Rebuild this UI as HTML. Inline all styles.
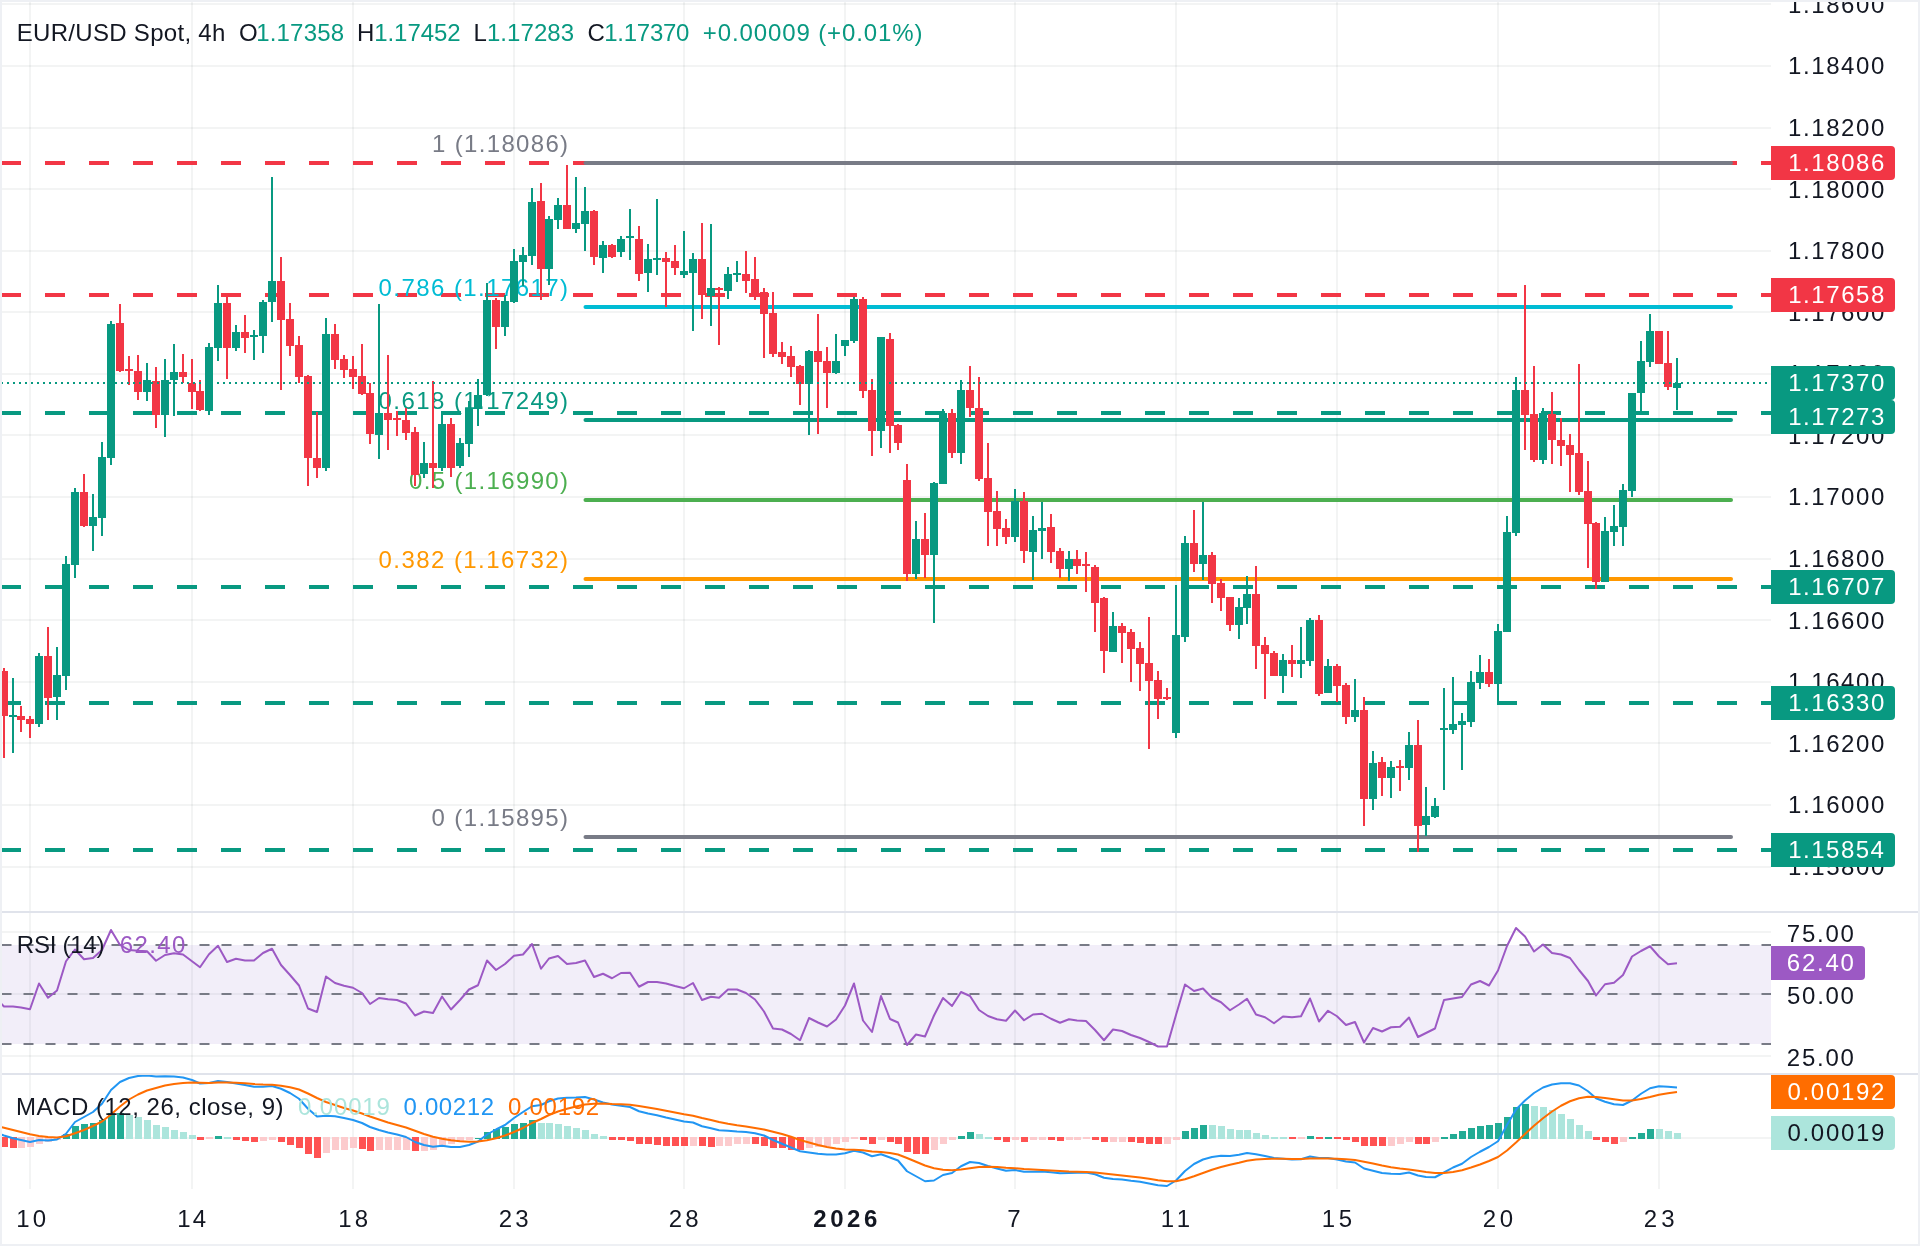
<!DOCTYPE html><html><head><meta charset="utf-8"><title>EUR/USD Spot 4h</title>
<style>
html,body{margin:0;padding:0;background:#fff;}
body{width:1920px;height:1246px;overflow:hidden;font-family:"Liberation Sans",sans-serif;}
svg{display:block;position:absolute;left:0;top:0;will-change:transform;}
text{font-family:"Liberation Sans",sans-serif;font-size:24px;letter-spacing:0.9px;}
.ax{fill:#131722}
.w{fill:#fff}
</style></head><body>
<svg width="1920" height="1246" viewBox="0 0 1920 1246">
<rect x="0" y="0" width="1920" height="1246" fill="#ffffff"/>
<g shape-rendering="crispEdges">
<rect x="29" y="2" width="2" height="1187" fill="rgba(42,46,57,0.055)"/>
<rect x="191" y="2" width="2" height="1187" fill="rgba(42,46,57,0.055)"/>
<rect x="352" y="2" width="2" height="1187" fill="rgba(42,46,57,0.055)"/>
<rect x="513" y="2" width="2" height="1187" fill="rgba(42,46,57,0.055)"/>
<rect x="683" y="2" width="2" height="1187" fill="rgba(42,46,57,0.055)"/>
<rect x="844" y="2" width="2" height="1187" fill="rgba(42,46,57,0.055)"/>
<rect x="1014" y="2" width="2" height="1187" fill="rgba(42,46,57,0.055)"/>
<rect x="1175" y="2" width="2" height="1187" fill="rgba(42,46,57,0.055)"/>
<rect x="1336" y="2" width="2" height="1187" fill="rgba(42,46,57,0.055)"/>
<rect x="1497" y="2" width="2" height="1187" fill="rgba(42,46,57,0.055)"/>
<rect x="1658" y="2" width="2" height="1187" fill="rgba(42,46,57,0.055)"/>
<rect x="2" y="3" width="1769" height="2" fill="rgba(42,46,57,0.055)"/>
<rect x="2" y="65" width="1769" height="2" fill="rgba(42,46,57,0.055)"/>
<rect x="2" y="127" width="1769" height="2" fill="rgba(42,46,57,0.055)"/>
<rect x="2" y="188" width="1769" height="2" fill="rgba(42,46,57,0.055)"/>
<rect x="2" y="250" width="1769" height="2" fill="rgba(42,46,57,0.055)"/>
<rect x="2" y="311" width="1769" height="2" fill="rgba(42,46,57,0.055)"/>
<rect x="2" y="373" width="1769" height="2" fill="rgba(42,46,57,0.055)"/>
<rect x="2" y="434" width="1769" height="2" fill="rgba(42,46,57,0.055)"/>
<rect x="2" y="496" width="1769" height="2" fill="rgba(42,46,57,0.055)"/>
<rect x="2" y="558" width="1769" height="2" fill="rgba(42,46,57,0.055)"/>
<rect x="2" y="619" width="1769" height="2" fill="rgba(42,46,57,0.055)"/>
<rect x="2" y="681" width="1769" height="2" fill="rgba(42,46,57,0.055)"/>
<rect x="2" y="742" width="1769" height="2" fill="rgba(42,46,57,0.055)"/>
<rect x="2" y="804" width="1769" height="2" fill="rgba(42,46,57,0.055)"/>
<rect x="2" y="866" width="1769" height="2" fill="rgba(42,46,57,0.055)"/>
<rect x="2" y="931" width="1769" height="2" fill="rgba(42,46,57,0.055)"/>
<rect x="2" y="993" width="1769" height="2" fill="rgba(42,46,57,0.055)"/>
<rect x="2" y="1055" width="1769" height="2" fill="rgba(42,46,57,0.055)"/>
<rect x="2" y="1137" width="1769" height="2" fill="rgba(42,46,57,0.055)"/>
</g>
<rect x="2" y="945" width="1769" height="99" fill="#7e57c2" fill-opacity="0.1"/>
<line x1="1.5" y1="945" x2="1771" y2="945" stroke="#787b86" stroke-width="2" stroke-dasharray="10 12"/>
<line x1="1.5" y1="994" x2="1771" y2="994" stroke="#787b86" stroke-width="2" stroke-dasharray="10 12"/>
<line x1="1.5" y1="1044" x2="1771" y2="1044" stroke="#787b86" stroke-width="2" stroke-dasharray="10 12"/>
<polyline points="-5,997.50 4,1006.50 13,1006.50 21,1007.50 30,1009.25 39,983.50 48,997.75 57,990.50 66,961.25 75,949.50 84,959.25 93,958.00 102,950.00 111,930.00 120,945.00 129,950.00 138,950.75 147,951.25 156,960.75 165,955.00 174,953.25 183,954.50 192,961.25 200,967.25 209,954.25 218,945.75 227,962.00 236,958.75 245,960.50 254,960.50 263,953.00 272,948.75 281,965.00 290,975.00 299,985.50 308,1008.50 317,1012.00 326,976.50 335,983.00 344,985.75 353,987.75 362,993.00 370,1004.00 379,998.00 388,999.25 397,1000.00 406,1003.50 415,1015.50 424,1011.50 433,1013.00 442,996.50 451,1009.50 460,1000.00 469,989.50 478,985.25 487,960.50 496,970.00 505,964.00 514,955.75 523,954.50 532,944.00 541,968.75 549,958.50 558,956.00 567,964.00 576,963.00 585,960.50 594,977.00 603,973.75 612,978.25 621,973.00 630,972.75 639,986.75 648,982.00 657,982.00 666,983.50 675,986.00 684,988.25 693,983.00 702,1000.00 711,996.75 719,997.75 728,989.50 737,989.50 746,993.00 755,999.50 764,1011.50 773,1028.50 782,1029.50 791,1034.00 800,1040.25 809,1018.00 818,1022.50 827,1026.50 836,1019.50 845,1005.50 854,983.50 863,1020.50 872,1032.00 881,996.00 890,1019.00 898,1022.50 907,1045.00 916,1034.50 925,1036.50 934,1015.50 943,998.00 952,1006.00 961,992.00 970,996.00 979,1010.00 988,1016.00 997,1019.25 1006,1020.75 1015,1010.50 1024,1020.25 1033,1014.50 1042,1013.75 1051,1018.75 1060,1022.75 1069,1019.25 1077,1020.50 1086,1021.00 1095,1030.00 1104,1040.25 1113,1029.50 1122,1031.00 1131,1035.00 1140,1038.00 1149,1042.00 1158,1046.50 1167,1046.50 1176,1015.00 1185,984.50 1194,991.00 1203,988.50 1212,997.75 1221,1002.25 1230,1010.25 1239,1004.50 1247,998.75 1256,1014.50 1265,1017.25 1274,1023.25 1283,1016.50 1292,1017.25 1301,1016.25 1310,998.50 1319,1021.50 1328,1010.75 1337,1016.25 1346,1025.00 1355,1022.00 1364,1042.50 1373,1028.00 1382,1031.50 1391,1027.25 1400,1026.75 1409,1017.50 1418,1037.00 1426,1033.00 1435,1028.50 1444,1000.00 1453,998.50 1462,997.00 1471,984.50 1480,981.00 1489,985.50 1498,970.50 1507,946.00 1516,928.00 1525,936.50 1534,951.50 1543,944.50 1552,953.00 1561,954.50 1570,958.00 1579,970.00 1588,981.00 1596,995.50 1605,984.25 1614,982.75 1623,975.00 1632,956.50 1641,951.00 1650,946.25 1659,956.50 1668,964.25 1677,963.25" fill="none" stroke="#9c59c4" stroke-width="2" stroke-linejoin="round"/>
<g shape-rendering="crispEdges">
<rect x="1" y="1137" width="7" height="10" fill="#ff5252"/>
<rect x="10" y="1137" width="7" height="11" fill="#ff5252"/>
<rect x="18" y="1137" width="7" height="11" fill="#fccbcd"/>
<rect x="27" y="1137" width="7" height="10" fill="#fccbcd"/>
<rect x="36" y="1137" width="7" height="7" fill="#fccbcd"/>
<rect x="45" y="1137" width="7" height="5" fill="#fccbcd"/>
<rect x="54" y="1137" width="7" height="3" fill="#fccbcd"/>
<rect x="63" y="1134" width="7" height="5" fill="#22ab94"/>
<rect x="72" y="1126" width="7" height="13" fill="#22ab94"/>
<rect x="81" y="1124" width="7" height="15" fill="#22ab94"/>
<rect x="90" y="1123" width="7" height="16" fill="#22ab94"/>
<rect x="99" y="1120" width="7" height="19" fill="#22ab94"/>
<rect x="108" y="1113" width="7" height="26" fill="#22ab94"/>
<rect x="117" y="1113" width="7" height="26" fill="#22ab94"/>
<rect x="126" y="1115" width="7" height="24" fill="#ace5dc"/>
<rect x="135" y="1117" width="7" height="22" fill="#ace5dc"/>
<rect x="144" y="1120" width="7" height="19" fill="#ace5dc"/>
<rect x="153" y="1125" width="7" height="14" fill="#ace5dc"/>
<rect x="162" y="1127" width="7" height="12" fill="#ace5dc"/>
<rect x="171" y="1130" width="7" height="9" fill="#ace5dc"/>
<rect x="180" y="1132" width="7" height="7" fill="#ace5dc"/>
<rect x="189" y="1135" width="7" height="4" fill="#ace5dc"/>
<rect x="197" y="1137" width="7" height="3" fill="#ff5252"/>
<rect x="206" y="1137" width="7" height="2" fill="#fccbcd"/>
<rect x="215" y="1136" width="7" height="3" fill="#22ab94"/>
<rect x="224" y="1137" width="7" height="2" fill="#ace5dc"/>
<rect x="233" y="1137" width="7" height="3" fill="#ff5252"/>
<rect x="242" y="1137" width="7" height="4" fill="#ff5252"/>
<rect x="251" y="1137" width="7" height="5" fill="#ff5252"/>
<rect x="260" y="1137" width="7" height="4" fill="#fccbcd"/>
<rect x="269" y="1137" width="7" height="3" fill="#fccbcd"/>
<rect x="278" y="1137" width="7" height="5" fill="#ff5252"/>
<rect x="287" y="1137" width="7" height="8" fill="#ff5252"/>
<rect x="296" y="1137" width="7" height="11" fill="#ff5252"/>
<rect x="305" y="1137" width="7" height="17" fill="#ff5252"/>
<rect x="314" y="1137" width="7" height="21" fill="#ff5252"/>
<rect x="323" y="1137" width="7" height="16" fill="#fccbcd"/>
<rect x="332" y="1137" width="7" height="13" fill="#fccbcd"/>
<rect x="341" y="1137" width="7" height="13" fill="#fccbcd"/>
<rect x="350" y="1137" width="7" height="11" fill="#fccbcd"/>
<rect x="359" y="1137" width="7" height="12" fill="#ff5252"/>
<rect x="367" y="1137" width="7" height="14" fill="#ff5252"/>
<rect x="376" y="1137" width="7" height="13" fill="#fccbcd"/>
<rect x="385" y="1137" width="7" height="13" fill="#fccbcd"/>
<rect x="394" y="1137" width="7" height="13" fill="#fccbcd"/>
<rect x="403" y="1137" width="7" height="13" fill="#fccbcd"/>
<rect x="412" y="1137" width="7" height="14" fill="#ff5252"/>
<rect x="421" y="1137" width="7" height="14" fill="#fccbcd"/>
<rect x="430" y="1137" width="7" height="13" fill="#fccbcd"/>
<rect x="439" y="1137" width="7" height="9" fill="#fccbcd"/>
<rect x="448" y="1137" width="7" height="7" fill="#fccbcd"/>
<rect x="457" y="1137" width="7" height="4" fill="#fccbcd"/>
<rect x="466" y="1137" width="7" height="3" fill="#fccbcd"/>
<rect x="475" y="1138" width="7" height="1" fill="#22ab94"/>
<rect x="484" y="1132" width="7" height="7" fill="#22ab94"/>
<rect x="493" y="1129" width="7" height="10" fill="#22ab94"/>
<rect x="502" y="1127" width="7" height="12" fill="#22ab94"/>
<rect x="511" y="1124" width="7" height="15" fill="#22ab94"/>
<rect x="520" y="1123" width="7" height="16" fill="#22ab94"/>
<rect x="529" y="1120" width="7" height="19" fill="#22ab94"/>
<rect x="538" y="1123" width="7" height="16" fill="#ace5dc"/>
<rect x="546" y="1123" width="7" height="16" fill="#ace5dc"/>
<rect x="555" y="1124" width="7" height="15" fill="#ace5dc"/>
<rect x="564" y="1126" width="7" height="13" fill="#ace5dc"/>
<rect x="573" y="1128" width="7" height="11" fill="#ace5dc"/>
<rect x="582" y="1130" width="7" height="9" fill="#ace5dc"/>
<rect x="591" y="1134" width="7" height="5" fill="#ace5dc"/>
<rect x="600" y="1136" width="7" height="3" fill="#ace5dc"/>
<rect x="609" y="1137" width="7" height="3" fill="#ff5252"/>
<rect x="618" y="1137" width="7" height="3" fill="#ff5252"/>
<rect x="627" y="1137" width="7" height="4" fill="#ff5252"/>
<rect x="636" y="1137" width="7" height="7" fill="#ff5252"/>
<rect x="645" y="1137" width="7" height="7" fill="#ff5252"/>
<rect x="654" y="1137" width="7" height="8" fill="#ff5252"/>
<rect x="663" y="1137" width="7" height="9" fill="#ff5252"/>
<rect x="672" y="1137" width="7" height="9" fill="#ff5252"/>
<rect x="681" y="1137" width="7" height="9" fill="#ff5252"/>
<rect x="690" y="1137" width="7" height="9" fill="#fccbcd"/>
<rect x="699" y="1137" width="7" height="9" fill="#ff5252"/>
<rect x="708" y="1137" width="7" height="10" fill="#ff5252"/>
<rect x="716" y="1137" width="7" height="9" fill="#fccbcd"/>
<rect x="725" y="1137" width="7" height="9" fill="#fccbcd"/>
<rect x="734" y="1137" width="7" height="7" fill="#fccbcd"/>
<rect x="743" y="1137" width="7" height="7" fill="#fccbcd"/>
<rect x="752" y="1137" width="7" height="7" fill="#ff5252"/>
<rect x="761" y="1137" width="7" height="9" fill="#ff5252"/>
<rect x="770" y="1137" width="7" height="11" fill="#ff5252"/>
<rect x="779" y="1137" width="7" height="11" fill="#ff5252"/>
<rect x="788" y="1137" width="7" height="13" fill="#ff5252"/>
<rect x="797" y="1137" width="7" height="13" fill="#ff5252"/>
<rect x="806" y="1137" width="7" height="11" fill="#fccbcd"/>
<rect x="815" y="1137" width="7" height="10" fill="#fccbcd"/>
<rect x="824" y="1137" width="7" height="9" fill="#fccbcd"/>
<rect x="833" y="1137" width="7" height="7" fill="#fccbcd"/>
<rect x="842" y="1137" width="7" height="5" fill="#fccbcd"/>
<rect x="851" y="1137" width="7" height="2" fill="#fccbcd"/>
<rect x="860" y="1137" width="7" height="3" fill="#ff5252"/>
<rect x="869" y="1137" width="7" height="7" fill="#ff5252"/>
<rect x="878" y="1137" width="7" height="3" fill="#fccbcd"/>
<rect x="887" y="1137" width="7" height="5" fill="#ff5252"/>
<rect x="895" y="1137" width="7" height="7" fill="#ff5252"/>
<rect x="904" y="1137" width="7" height="15" fill="#ff5252"/>
<rect x="913" y="1137" width="7" height="17" fill="#ff5252"/>
<rect x="922" y="1137" width="7" height="17" fill="#ff5252"/>
<rect x="931" y="1137" width="7" height="13" fill="#fccbcd"/>
<rect x="940" y="1137" width="7" height="7" fill="#fccbcd"/>
<rect x="949" y="1137" width="7" height="3" fill="#fccbcd"/>
<rect x="958" y="1136" width="7" height="3" fill="#22ab94"/>
<rect x="967" y="1132" width="7" height="7" fill="#22ab94"/>
<rect x="976" y="1134" width="7" height="5" fill="#ace5dc"/>
<rect x="985" y="1137" width="7" height="2" fill="#ace5dc"/>
<rect x="994" y="1137" width="7" height="3" fill="#ff5252"/>
<rect x="1003" y="1137" width="7" height="5" fill="#ff5252"/>
<rect x="1012" y="1137" width="7" height="3" fill="#fccbcd"/>
<rect x="1021" y="1137" width="7" height="5" fill="#ff5252"/>
<rect x="1030" y="1137" width="7" height="3" fill="#fccbcd"/>
<rect x="1039" y="1137" width="7" height="3" fill="#fccbcd"/>
<rect x="1048" y="1137" width="7" height="3" fill="#ff5252"/>
<rect x="1057" y="1137" width="7" height="4" fill="#ff5252"/>
<rect x="1066" y="1137" width="7" height="3" fill="#fccbcd"/>
<rect x="1074" y="1137" width="7" height="3" fill="#fccbcd"/>
<rect x="1083" y="1137" width="7" height="2" fill="#fccbcd"/>
<rect x="1092" y="1137" width="7" height="3" fill="#ff5252"/>
<rect x="1101" y="1137" width="7" height="5" fill="#ff5252"/>
<rect x="1110" y="1137" width="7" height="5" fill="#fccbcd"/>
<rect x="1119" y="1137" width="7" height="5" fill="#fccbcd"/>
<rect x="1128" y="1137" width="7" height="5" fill="#ff5252"/>
<rect x="1137" y="1137" width="7" height="6" fill="#ff5252"/>
<rect x="1146" y="1137" width="7" height="7" fill="#ff5252"/>
<rect x="1155" y="1137" width="7" height="7" fill="#ff5252"/>
<rect x="1164" y="1137" width="7" height="7" fill="#fccbcd"/>
<rect x="1173" y="1137" width="7" height="3" fill="#fccbcd"/>
<rect x="1182" y="1131" width="7" height="8" fill="#22ab94"/>
<rect x="1191" y="1128" width="7" height="11" fill="#22ab94"/>
<rect x="1200" y="1125" width="7" height="14" fill="#22ab94"/>
<rect x="1209" y="1125" width="7" height="14" fill="#ace5dc"/>
<rect x="1218" y="1126" width="7" height="13" fill="#ace5dc"/>
<rect x="1227" y="1129" width="7" height="10" fill="#ace5dc"/>
<rect x="1236" y="1130" width="7" height="9" fill="#ace5dc"/>
<rect x="1244" y="1130" width="7" height="9" fill="#ace5dc"/>
<rect x="1253" y="1133" width="7" height="6" fill="#ace5dc"/>
<rect x="1262" y="1135" width="7" height="4" fill="#ace5dc"/>
<rect x="1271" y="1137" width="7" height="2" fill="#ace5dc"/>
<rect x="1280" y="1137" width="7" height="2" fill="#ace5dc"/>
<rect x="1289" y="1137" width="7" height="2" fill="#ff5252"/>
<rect x="1298" y="1137" width="7" height="2" fill="#fccbcd"/>
<rect x="1307" y="1136" width="7" height="3" fill="#22ab94"/>
<rect x="1316" y="1137" width="7" height="2" fill="#ff5252"/>
<rect x="1325" y="1137" width="7" height="2" fill="#22ab94"/>
<rect x="1334" y="1137" width="7" height="2" fill="#ff5252"/>
<rect x="1343" y="1137" width="7" height="3" fill="#ff5252"/>
<rect x="1352" y="1137" width="7" height="5" fill="#ff5252"/>
<rect x="1361" y="1137" width="7" height="9" fill="#ff5252"/>
<rect x="1370" y="1137" width="7" height="9" fill="#ff5252"/>
<rect x="1379" y="1137" width="7" height="9" fill="#ff5252"/>
<rect x="1388" y="1137" width="7" height="9" fill="#fccbcd"/>
<rect x="1397" y="1137" width="7" height="7" fill="#fccbcd"/>
<rect x="1406" y="1137" width="7" height="5" fill="#fccbcd"/>
<rect x="1415" y="1137" width="7" height="7" fill="#ff5252"/>
<rect x="1423" y="1137" width="7" height="7" fill="#ff5252"/>
<rect x="1432" y="1137" width="7" height="5" fill="#fccbcd"/>
<rect x="1441" y="1137" width="7" height="2" fill="#22ab94"/>
<rect x="1450" y="1134" width="7" height="5" fill="#22ab94"/>
<rect x="1459" y="1131" width="7" height="8" fill="#22ab94"/>
<rect x="1468" y="1128" width="7" height="11" fill="#22ab94"/>
<rect x="1477" y="1126" width="7" height="13" fill="#22ab94"/>
<rect x="1486" y="1125" width="7" height="14" fill="#22ab94"/>
<rect x="1495" y="1123" width="7" height="16" fill="#22ab94"/>
<rect x="1504" y="1117" width="7" height="22" fill="#22ab94"/>
<rect x="1513" y="1107" width="7" height="32" fill="#22ab94"/>
<rect x="1522" y="1104" width="7" height="35" fill="#22ab94"/>
<rect x="1531" y="1106" width="7" height="33" fill="#ace5dc"/>
<rect x="1540" y="1107" width="7" height="32" fill="#ace5dc"/>
<rect x="1549" y="1110" width="7" height="29" fill="#ace5dc"/>
<rect x="1558" y="1114" width="7" height="25" fill="#ace5dc"/>
<rect x="1567" y="1119" width="7" height="20" fill="#ace5dc"/>
<rect x="1576" y="1125" width="7" height="14" fill="#ace5dc"/>
<rect x="1585" y="1131" width="7" height="8" fill="#ace5dc"/>
<rect x="1593" y="1137" width="7" height="3" fill="#ff5252"/>
<rect x="1602" y="1137" width="7" height="5" fill="#ff5252"/>
<rect x="1611" y="1137" width="7" height="7" fill="#ff5252"/>
<rect x="1620" y="1137" width="7" height="5" fill="#fccbcd"/>
<rect x="1629" y="1137" width="7" height="2" fill="#22ab94"/>
<rect x="1638" y="1133" width="7" height="6" fill="#22ab94"/>
<rect x="1647" y="1129" width="7" height="10" fill="#22ab94"/>
<rect x="1656" y="1129" width="7" height="10" fill="#ace5dc"/>
<rect x="1665" y="1131" width="7" height="8" fill="#ace5dc"/>
<rect x="1674" y="1133" width="7" height="6" fill="#ace5dc"/>
</g>
<polyline points="-5,1132.50 4,1135.50 13,1138.25 21,1140.00 30,1142.00 39,1140.00 48,1140.50 57,1139.50 66,1133.75 75,1122.00 84,1117.00 93,1112.00 102,1103.75 111,1090.00 120,1082.00 129,1078.00 138,1076.00 147,1075.50 156,1076.50 165,1076.25 174,1076.50 183,1077.50 192,1080.00 200,1083.50 209,1083.00 218,1081.00 227,1082.00 236,1083.50 245,1085.00 254,1086.75 263,1086.75 272,1086.00 281,1088.75 290,1093.00 299,1098.75 308,1108.75 317,1116.50 326,1115.75 335,1116.25 344,1118.00 353,1120.00 362,1123.00 370,1127.00 379,1130.00 388,1132.50 397,1134.50 406,1137.00 415,1142.00 424,1145.00 433,1146.75 442,1145.75 451,1147.00 460,1147.00 469,1145.00 478,1141.50 487,1134.50 496,1129.50 505,1125.00 514,1118.00 523,1112.00 532,1106.25 541,1105.00 549,1101.25 558,1098.50 567,1097.75 576,1097.50 585,1097.00 594,1099.50 603,1102.50 612,1104.50 621,1105.75 630,1107.00 639,1111.25 648,1113.50 657,1115.25 666,1117.50 675,1119.50 684,1121.50 693,1122.50 702,1126.25 711,1128.25 719,1130.25 728,1130.75 737,1131.50 746,1132.00 755,1133.25 764,1135.50 773,1140.00 782,1143.75 791,1147.50 800,1151.25 809,1152.50 818,1153.75 827,1154.50 836,1154.50 845,1153.25 854,1150.75 863,1152.50 872,1156.25 881,1154.25 890,1157.50 898,1160.50 907,1171.25 916,1176.25 925,1181.25 934,1180.50 943,1175.00 952,1173.00 961,1166.25 970,1162.00 979,1163.00 988,1166.00 997,1168.50 1006,1170.75 1015,1170.00 1024,1171.75 1033,1171.75 1042,1171.50 1051,1172.25 1060,1173.25 1069,1173.00 1077,1172.75 1086,1172.50 1095,1174.25 1104,1177.75 1113,1179.00 1122,1179.50 1131,1180.75 1140,1181.75 1149,1183.50 1158,1185.25 1167,1186.00 1176,1180.50 1185,1171.00 1194,1164.00 1203,1159.50 1212,1157.00 1221,1155.75 1230,1156.00 1239,1154.75 1247,1153.00 1256,1154.25 1265,1156.00 1274,1158.00 1283,1158.75 1292,1159.50 1301,1159.25 1310,1156.50 1319,1158.00 1328,1158.00 1337,1159.50 1346,1161.50 1355,1162.50 1364,1168.50 1373,1170.75 1382,1173.00 1391,1173.75 1400,1174.00 1409,1172.50 1418,1175.50 1426,1177.00 1435,1177.25 1444,1172.50 1453,1167.50 1462,1163.75 1471,1157.00 1480,1151.75 1489,1147.00 1498,1141.25 1507,1125.00 1516,1109.50 1525,1100.50 1534,1093.00 1543,1087.50 1552,1084.50 1561,1083.25 1570,1083.25 1579,1085.50 1588,1091.25 1596,1098.25 1605,1101.75 1614,1104.25 1623,1105.00 1632,1100.50 1641,1093.75 1650,1088.25 1659,1086.25 1668,1086.75 1677,1087.50" fill="none" stroke="#2196f3" stroke-width="2" stroke-linejoin="round"/>
<polyline points="-5,1125.50 4,1127.75 13,1130.00 21,1132.00 30,1134.25 39,1136.00 48,1137.00 57,1137.50 66,1136.25 75,1133.25 84,1130.00 93,1126.00 102,1121.50 111,1114.50 120,1106.50 129,1099.50 138,1094.50 147,1090.50 156,1088.00 165,1085.50 174,1084.00 183,1083.00 192,1082.50 200,1082.75 209,1083.00 218,1082.50 227,1082.50 236,1082.75 245,1083.25 254,1084.00 263,1084.50 272,1084.75 281,1085.75 290,1087.25 299,1089.50 308,1093.50 317,1098.00 326,1102.00 335,1105.00 344,1108.00 353,1110.50 362,1113.50 370,1116.50 379,1119.50 388,1122.50 397,1125.00 406,1127.50 415,1130.75 424,1134.00 433,1136.75 442,1138.75 451,1140.25 460,1141.25 469,1141.75 478,1141.50 487,1140.25 496,1138.25 505,1135.50 514,1132.00 523,1128.00 532,1123.00 541,1119.00 549,1115.00 558,1111.50 567,1108.75 576,1106.50 585,1104.50 594,1103.75 603,1103.50 612,1104.00 621,1104.25 630,1104.75 639,1106.00 648,1107.50 657,1109.00 666,1110.75 675,1112.50 684,1114.25 693,1115.75 702,1118.00 711,1120.00 719,1122.00 728,1123.75 737,1125.25 746,1126.50 755,1128.00 764,1129.50 773,1131.75 782,1134.00 791,1136.75 800,1140.00 809,1142.50 818,1145.00 827,1147.00 836,1148.50 845,1149.50 854,1149.75 863,1150.25 872,1151.50 881,1152.00 890,1153.00 898,1154.50 907,1158.00 916,1161.75 925,1165.50 934,1168.25 943,1169.75 952,1170.25 961,1169.50 970,1168.25 979,1167.00 988,1166.75 997,1167.00 1006,1167.75 1015,1168.25 1024,1169.00 1033,1169.50 1042,1170.00 1051,1170.50 1060,1171.00 1069,1171.50 1077,1171.75 1086,1172.00 1095,1172.50 1104,1173.50 1113,1174.50 1122,1175.50 1131,1176.50 1140,1177.50 1149,1178.75 1158,1180.25 1167,1181.25 1176,1181.25 1185,1179.25 1194,1176.25 1203,1173.00 1212,1169.75 1221,1167.00 1230,1164.75 1239,1162.75 1247,1160.75 1256,1159.50 1265,1159.00 1274,1158.75 1283,1158.75 1292,1159.00 1301,1159.00 1310,1158.50 1319,1158.50 1328,1158.50 1337,1158.75 1346,1159.25 1355,1160.00 1364,1161.75 1373,1163.50 1382,1165.50 1391,1167.25 1400,1168.50 1409,1169.50 1418,1170.75 1426,1172.00 1435,1173.00 1444,1173.00 1453,1172.00 1462,1170.25 1471,1167.50 1480,1164.50 1489,1161.00 1498,1157.00 1507,1150.50 1516,1142.50 1525,1134.00 1534,1125.75 1543,1118.25 1552,1111.50 1561,1105.75 1570,1101.25 1579,1098.25 1588,1096.75 1596,1097.00 1605,1098.00 1614,1099.25 1623,1100.50 1632,1100.50 1641,1099.00 1650,1097.00 1659,1094.75 1668,1093.25 1677,1092.00" fill="none" stroke="#ff6d00" stroke-width="2" stroke-linejoin="round"/>
<line x1="1" y1="163" x2="1771" y2="163" stroke="#f23645" stroke-width="4" stroke-dasharray="20 24"/>
<line x1="1" y1="295" x2="1771" y2="295" stroke="#f23645" stroke-width="4" stroke-dasharray="20 24"/>
<line x1="1" y1="413" x2="1771" y2="413" stroke="#089981" stroke-width="4" stroke-dasharray="20 24"/>
<line x1="1" y1="587" x2="1771" y2="587" stroke="#089981" stroke-width="4" stroke-dasharray="20 24"/>
<line x1="1" y1="703" x2="1771" y2="703" stroke="#089981" stroke-width="4" stroke-dasharray="20 24"/>
<line x1="1" y1="850" x2="1771" y2="850" stroke="#089981" stroke-width="4" stroke-dasharray="20 24"/>
<line x1="585.5" y1="163" x2="1731" y2="163" stroke="#787b86" stroke-width="4" stroke-linecap="round"/>
<text x="432.10" y="152" fill="#787b86" style="font-size:24px;letter-spacing:1.320px">1 (1.18086)</text>
<line x1="585.5" y1="307" x2="1731" y2="307" stroke="#00bcd4" stroke-width="4" stroke-linecap="round"/>
<text x="378.60" y="296" fill="#00bcd4" style="font-size:24px;letter-spacing:1.429px">0.786 (1.17617)</text>
<line x1="585.5" y1="420" x2="1731" y2="420" stroke="#089981" stroke-width="4" stroke-linecap="round"/>
<text x="378.60" y="409" fill="#089981" style="font-size:24px;letter-spacing:1.429px">0.618 (1.17249)</text>
<line x1="585.5" y1="500" x2="1731" y2="500" stroke="#4caf50" stroke-width="4" stroke-linecap="round"/>
<text x="409.10" y="489" fill="#4caf50" style="font-size:24px;letter-spacing:1.350px">0.5 (1.16990)</text>
<line x1="585.5" y1="579" x2="1731" y2="579" stroke="#ff9800" stroke-width="4" stroke-linecap="round"/>
<text x="378.60" y="568" fill="#ff9800" style="font-size:24px;letter-spacing:1.429px">0.382 (1.16732)</text>
<line x1="585.5" y1="837" x2="1731" y2="837" stroke="#787b86" stroke-width="4" stroke-linecap="round"/>
<text x="431.60" y="826" fill="#787b86" style="font-size:24px;letter-spacing:1.370px">0 (1.15895)</text>
<g shape-rendering="crispEdges">
<rect x="3" y="668" width="2" height="90" fill="#f23645"/>
<rect x="0" y="671" width="8" height="45" fill="#f23645"/>
<rect x="12" y="678" width="2" height="75" fill="#089981"/>
<rect x="9" y="715" width="8" height="2" fill="#089981"/>
<rect x="20" y="706" width="2" height="26" fill="#f23645"/>
<rect x="17" y="716" width="8" height="4" fill="#f23645"/>
<rect x="29" y="716" width="2" height="22" fill="#f23645"/>
<rect x="26" y="719" width="8" height="5" fill="#f23645"/>
<rect x="38" y="653" width="2" height="74" fill="#089981"/>
<rect x="35" y="656" width="8" height="68" fill="#089981"/>
<rect x="47" y="627" width="2" height="93" fill="#f23645"/>
<rect x="44" y="656" width="8" height="42" fill="#f23645"/>
<rect x="56" y="647" width="2" height="73" fill="#089981"/>
<rect x="53" y="675" width="8" height="22" fill="#089981"/>
<rect x="65" y="556" width="2" height="134" fill="#089981"/>
<rect x="62" y="564" width="8" height="112" fill="#089981"/>
<rect x="74" y="488" width="2" height="90" fill="#089981"/>
<rect x="71" y="492" width="8" height="73" fill="#089981"/>
<rect x="83" y="474" width="2" height="53" fill="#f23645"/>
<rect x="80" y="492" width="8" height="34" fill="#f23645"/>
<rect x="92" y="494" width="2" height="57" fill="#089981"/>
<rect x="89" y="517" width="8" height="9" fill="#089981"/>
<rect x="101" y="442" width="2" height="94" fill="#089981"/>
<rect x="98" y="457" width="8" height="61" fill="#089981"/>
<rect x="110" y="321" width="2" height="144" fill="#089981"/>
<rect x="107" y="324" width="8" height="134" fill="#089981"/>
<rect x="119" y="304" width="2" height="68" fill="#f23645"/>
<rect x="116" y="323" width="8" height="48" fill="#f23645"/>
<rect x="128" y="356" width="2" height="29" fill="#f23645"/>
<rect x="125" y="369" width="8" height="2" fill="#f23645"/>
<rect x="137" y="355" width="2" height="45" fill="#f23645"/>
<rect x="134" y="371" width="8" height="21" fill="#f23645"/>
<rect x="146" y="363" width="2" height="38" fill="#089981"/>
<rect x="143" y="380" width="8" height="12" fill="#089981"/>
<rect x="155" y="367" width="2" height="61" fill="#f23645"/>
<rect x="152" y="381" width="8" height="34" fill="#f23645"/>
<rect x="164" y="359" width="2" height="78" fill="#089981"/>
<rect x="161" y="380" width="8" height="35" fill="#089981"/>
<rect x="173" y="344" width="2" height="72" fill="#089981"/>
<rect x="170" y="372" width="8" height="8" fill="#089981"/>
<rect x="182" y="354" width="2" height="29" fill="#f23645"/>
<rect x="179" y="372" width="8" height="5" fill="#f23645"/>
<rect x="191" y="359" width="2" height="50" fill="#f23645"/>
<rect x="188" y="383" width="8" height="9" fill="#f23645"/>
<rect x="199" y="380" width="2" height="31" fill="#f23645"/>
<rect x="196" y="391" width="8" height="19" fill="#f23645"/>
<rect x="208" y="343" width="2" height="72" fill="#089981"/>
<rect x="205" y="347" width="8" height="64" fill="#089981"/>
<rect x="217" y="285" width="2" height="76" fill="#089981"/>
<rect x="214" y="303" width="8" height="45" fill="#089981"/>
<rect x="226" y="296" width="2" height="83" fill="#f23645"/>
<rect x="223" y="303" width="8" height="45" fill="#f23645"/>
<rect x="235" y="325" width="2" height="26" fill="#089981"/>
<rect x="232" y="332" width="8" height="16" fill="#089981"/>
<rect x="244" y="315" width="2" height="38" fill="#f23645"/>
<rect x="241" y="332" width="8" height="6" fill="#f23645"/>
<rect x="253" y="330" width="2" height="30" fill="#089981"/>
<rect x="250" y="335" width="8" height="2" fill="#089981"/>
<rect x="262" y="300" width="2" height="53" fill="#089981"/>
<rect x="259" y="302" width="8" height="34" fill="#089981"/>
<rect x="271" y="177" width="2" height="145" fill="#089981"/>
<rect x="268" y="281" width="8" height="21" fill="#089981"/>
<rect x="280" y="257" width="2" height="133" fill="#f23645"/>
<rect x="277" y="281" width="8" height="39" fill="#f23645"/>
<rect x="289" y="303" width="2" height="53" fill="#f23645"/>
<rect x="286" y="319" width="8" height="27" fill="#f23645"/>
<rect x="298" y="336" width="2" height="47" fill="#f23645"/>
<rect x="295" y="345" width="8" height="32" fill="#f23645"/>
<rect x="307" y="375" width="2" height="111" fill="#f23645"/>
<rect x="304" y="376" width="8" height="82" fill="#f23645"/>
<rect x="316" y="412" width="2" height="66" fill="#f23645"/>
<rect x="313" y="458" width="8" height="10" fill="#f23645"/>
<rect x="325" y="318" width="2" height="153" fill="#089981"/>
<rect x="322" y="334" width="8" height="134" fill="#089981"/>
<rect x="334" y="324" width="2" height="45" fill="#f23645"/>
<rect x="331" y="334" width="8" height="26" fill="#f23645"/>
<rect x="343" y="355" width="2" height="23" fill="#f23645"/>
<rect x="340" y="359" width="8" height="11" fill="#f23645"/>
<rect x="352" y="356" width="2" height="33" fill="#f23645"/>
<rect x="349" y="369" width="8" height="8" fill="#f23645"/>
<rect x="361" y="344" width="2" height="51" fill="#f23645"/>
<rect x="358" y="376" width="8" height="18" fill="#f23645"/>
<rect x="369" y="383" width="2" height="61" fill="#f23645"/>
<rect x="366" y="393" width="8" height="41" fill="#f23645"/>
<rect x="378" y="304" width="2" height="155" fill="#089981"/>
<rect x="375" y="413" width="8" height="22" fill="#089981"/>
<rect x="387" y="355" width="2" height="95" fill="#f23645"/>
<rect x="384" y="413" width="8" height="7" fill="#f23645"/>
<rect x="396" y="411" width="2" height="25" fill="#f23645"/>
<rect x="393" y="418" width="8" height="2" fill="#f23645"/>
<rect x="405" y="408" width="2" height="32" fill="#f23645"/>
<rect x="402" y="420" width="8" height="13" fill="#f23645"/>
<rect x="414" y="427" width="2" height="59" fill="#f23645"/>
<rect x="411" y="432" width="8" height="43" fill="#f23645"/>
<rect x="423" y="442" width="2" height="36" fill="#089981"/>
<rect x="420" y="463" width="8" height="11" fill="#089981"/>
<rect x="432" y="381" width="2" height="107" fill="#f23645"/>
<rect x="429" y="463" width="8" height="5" fill="#f23645"/>
<rect x="441" y="413" width="2" height="58" fill="#089981"/>
<rect x="438" y="424" width="8" height="44" fill="#089981"/>
<rect x="450" y="418" width="2" height="59" fill="#f23645"/>
<rect x="447" y="424" width="8" height="44" fill="#f23645"/>
<rect x="459" y="438" width="2" height="30" fill="#089981"/>
<rect x="456" y="443" width="8" height="23" fill="#089981"/>
<rect x="468" y="401" width="2" height="56" fill="#089981"/>
<rect x="465" y="408" width="8" height="36" fill="#089981"/>
<rect x="477" y="379" width="2" height="47" fill="#089981"/>
<rect x="474" y="395" width="8" height="14" fill="#089981"/>
<rect x="486" y="283" width="2" height="113" fill="#089981"/>
<rect x="483" y="300" width="8" height="95" fill="#089981"/>
<rect x="495" y="298" width="2" height="51" fill="#f23645"/>
<rect x="492" y="300" width="8" height="27" fill="#f23645"/>
<rect x="504" y="295" width="2" height="41" fill="#089981"/>
<rect x="501" y="301" width="8" height="26" fill="#089981"/>
<rect x="513" y="249" width="2" height="54" fill="#089981"/>
<rect x="510" y="261" width="8" height="41" fill="#089981"/>
<rect x="522" y="247" width="2" height="39" fill="#089981"/>
<rect x="519" y="255" width="8" height="7" fill="#089981"/>
<rect x="531" y="188" width="2" height="77" fill="#089981"/>
<rect x="528" y="202" width="8" height="54" fill="#089981"/>
<rect x="540" y="183" width="2" height="117" fill="#f23645"/>
<rect x="537" y="201" width="8" height="68" fill="#f23645"/>
<rect x="548" y="216" width="2" height="69" fill="#089981"/>
<rect x="545" y="219" width="8" height="50" fill="#089981"/>
<rect x="557" y="198" width="2" height="31" fill="#089981"/>
<rect x="554" y="205" width="8" height="15" fill="#089981"/>
<rect x="566" y="165" width="2" height="64" fill="#f23645"/>
<rect x="563" y="205" width="8" height="24" fill="#f23645"/>
<rect x="575" y="177" width="2" height="56" fill="#089981"/>
<rect x="572" y="223" width="8" height="6" fill="#089981"/>
<rect x="584" y="187" width="2" height="64" fill="#089981"/>
<rect x="581" y="211" width="8" height="13" fill="#089981"/>
<rect x="593" y="210" width="2" height="55" fill="#f23645"/>
<rect x="590" y="211" width="8" height="46" fill="#f23645"/>
<rect x="602" y="241" width="2" height="32" fill="#089981"/>
<rect x="599" y="245" width="8" height="13" fill="#089981"/>
<rect x="611" y="244" width="2" height="14" fill="#f23645"/>
<rect x="608" y="245" width="8" height="12" fill="#f23645"/>
<rect x="620" y="236" width="2" height="21" fill="#089981"/>
<rect x="617" y="239" width="8" height="13" fill="#089981"/>
<rect x="629" y="209" width="2" height="51" fill="#089981"/>
<rect x="626" y="236" width="8" height="2" fill="#089981"/>
<rect x="638" y="226" width="2" height="55" fill="#f23645"/>
<rect x="635" y="239" width="8" height="35" fill="#f23645"/>
<rect x="647" y="244" width="2" height="48" fill="#089981"/>
<rect x="644" y="259" width="8" height="14" fill="#089981"/>
<rect x="656" y="199" width="2" height="76" fill="#089981"/>
<rect x="653" y="258" width="8" height="2" fill="#089981"/>
<rect x="665" y="252" width="2" height="55" fill="#f23645"/>
<rect x="662" y="258" width="8" height="4" fill="#f23645"/>
<rect x="674" y="245" width="2" height="30" fill="#f23645"/>
<rect x="671" y="261" width="8" height="7" fill="#f23645"/>
<rect x="683" y="231" width="2" height="47" fill="#089981"/>
<rect x="680" y="271" width="8" height="4" fill="#089981"/>
<rect x="692" y="253" width="2" height="78" fill="#089981"/>
<rect x="689" y="259" width="8" height="14" fill="#089981"/>
<rect x="701" y="223" width="2" height="96" fill="#f23645"/>
<rect x="698" y="259" width="8" height="36" fill="#f23645"/>
<rect x="710" y="224" width="2" height="102" fill="#089981"/>
<rect x="707" y="288" width="8" height="8" fill="#089981"/>
<rect x="718" y="287" width="2" height="58" fill="#f23645"/>
<rect x="715" y="288" width="8" height="2" fill="#f23645"/>
<rect x="727" y="267" width="2" height="32" fill="#089981"/>
<rect x="724" y="274" width="8" height="17" fill="#089981"/>
<rect x="736" y="261" width="2" height="21" fill="#089981"/>
<rect x="733" y="273" width="8" height="2" fill="#089981"/>
<rect x="745" y="251" width="2" height="42" fill="#f23645"/>
<rect x="742" y="274" width="8" height="7" fill="#f23645"/>
<rect x="754" y="257" width="2" height="43" fill="#f23645"/>
<rect x="751" y="279" width="8" height="18" fill="#f23645"/>
<rect x="763" y="288" width="2" height="70" fill="#f23645"/>
<rect x="760" y="292" width="8" height="22" fill="#f23645"/>
<rect x="772" y="292" width="2" height="65" fill="#f23645"/>
<rect x="769" y="313" width="8" height="41" fill="#f23645"/>
<rect x="781" y="342" width="2" height="22" fill="#f23645"/>
<rect x="778" y="352" width="8" height="5" fill="#f23645"/>
<rect x="790" y="346" width="2" height="31" fill="#f23645"/>
<rect x="787" y="356" width="8" height="11" fill="#f23645"/>
<rect x="799" y="365" width="2" height="40" fill="#f23645"/>
<rect x="796" y="366" width="8" height="18" fill="#f23645"/>
<rect x="808" y="350" width="2" height="85" fill="#089981"/>
<rect x="805" y="351" width="8" height="33" fill="#089981"/>
<rect x="817" y="314" width="2" height="120" fill="#f23645"/>
<rect x="814" y="351" width="8" height="11" fill="#f23645"/>
<rect x="826" y="347" width="2" height="61" fill="#f23645"/>
<rect x="823" y="361" width="8" height="12" fill="#f23645"/>
<rect x="835" y="334" width="2" height="40" fill="#089981"/>
<rect x="832" y="361" width="8" height="12" fill="#089981"/>
<rect x="844" y="340" width="2" height="16" fill="#089981"/>
<rect x="841" y="340" width="8" height="6" fill="#089981"/>
<rect x="853" y="297" width="2" height="46" fill="#089981"/>
<rect x="850" y="299" width="8" height="42" fill="#089981"/>
<rect x="862" y="297" width="2" height="101" fill="#f23645"/>
<rect x="859" y="299" width="8" height="92" fill="#f23645"/>
<rect x="871" y="379" width="2" height="77" fill="#f23645"/>
<rect x="868" y="390" width="8" height="41" fill="#f23645"/>
<rect x="880" y="337" width="2" height="111" fill="#089981"/>
<rect x="877" y="337" width="8" height="94" fill="#089981"/>
<rect x="889" y="333" width="2" height="120" fill="#f23645"/>
<rect x="886" y="339" width="8" height="87" fill="#f23645"/>
<rect x="897" y="424" width="2" height="26" fill="#f23645"/>
<rect x="894" y="425" width="8" height="18" fill="#f23645"/>
<rect x="906" y="464" width="2" height="117" fill="#f23645"/>
<rect x="903" y="480" width="8" height="94" fill="#f23645"/>
<rect x="915" y="521" width="2" height="58" fill="#089981"/>
<rect x="912" y="539" width="8" height="35" fill="#089981"/>
<rect x="924" y="513" width="2" height="65" fill="#f23645"/>
<rect x="921" y="539" width="8" height="16" fill="#f23645"/>
<rect x="933" y="482" width="2" height="141" fill="#089981"/>
<rect x="930" y="483" width="8" height="72" fill="#089981"/>
<rect x="942" y="409" width="2" height="75" fill="#089981"/>
<rect x="939" y="413" width="8" height="71" fill="#089981"/>
<rect x="951" y="409" width="2" height="49" fill="#f23645"/>
<rect x="948" y="413" width="8" height="40" fill="#f23645"/>
<rect x="960" y="380" width="2" height="84" fill="#089981"/>
<rect x="957" y="390" width="8" height="63" fill="#089981"/>
<rect x="969" y="366" width="2" height="51" fill="#f23645"/>
<rect x="966" y="390" width="8" height="18" fill="#f23645"/>
<rect x="978" y="377" width="2" height="104" fill="#f23645"/>
<rect x="975" y="408" width="8" height="71" fill="#f23645"/>
<rect x="987" y="443" width="2" height="103" fill="#f23645"/>
<rect x="984" y="478" width="8" height="34" fill="#f23645"/>
<rect x="996" y="491" width="2" height="55" fill="#f23645"/>
<rect x="993" y="511" width="8" height="18" fill="#f23645"/>
<rect x="1005" y="519" width="2" height="25" fill="#f23645"/>
<rect x="1002" y="528" width="8" height="9" fill="#f23645"/>
<rect x="1014" y="489" width="2" height="53" fill="#089981"/>
<rect x="1011" y="501" width="8" height="36" fill="#089981"/>
<rect x="1023" y="492" width="2" height="71" fill="#f23645"/>
<rect x="1020" y="501" width="8" height="50" fill="#f23645"/>
<rect x="1032" y="516" width="2" height="64" fill="#089981"/>
<rect x="1029" y="530" width="8" height="22" fill="#089981"/>
<rect x="1041" y="502" width="2" height="57" fill="#089981"/>
<rect x="1038" y="528" width="8" height="3" fill="#089981"/>
<rect x="1050" y="514" width="2" height="49" fill="#f23645"/>
<rect x="1047" y="527" width="8" height="25" fill="#f23645"/>
<rect x="1059" y="548" width="2" height="30" fill="#f23645"/>
<rect x="1056" y="551" width="8" height="18" fill="#f23645"/>
<rect x="1068" y="551" width="2" height="30" fill="#089981"/>
<rect x="1065" y="559" width="8" height="10" fill="#089981"/>
<rect x="1076" y="550" width="2" height="24" fill="#f23645"/>
<rect x="1073" y="559" width="8" height="7" fill="#f23645"/>
<rect x="1085" y="552" width="2" height="40" fill="#f23645"/>
<rect x="1082" y="564" width="8" height="2" fill="#f23645"/>
<rect x="1094" y="565" width="2" height="67" fill="#f23645"/>
<rect x="1091" y="567" width="8" height="36" fill="#f23645"/>
<rect x="1103" y="597" width="2" height="76" fill="#f23645"/>
<rect x="1100" y="598" width="8" height="53" fill="#f23645"/>
<rect x="1112" y="612" width="2" height="40" fill="#089981"/>
<rect x="1109" y="626" width="8" height="26" fill="#089981"/>
<rect x="1121" y="623" width="2" height="40" fill="#f23645"/>
<rect x="1118" y="626" width="8" height="7" fill="#f23645"/>
<rect x="1130" y="629" width="2" height="53" fill="#f23645"/>
<rect x="1127" y="632" width="8" height="17" fill="#f23645"/>
<rect x="1139" y="642" width="2" height="49" fill="#f23645"/>
<rect x="1136" y="648" width="8" height="16" fill="#f23645"/>
<rect x="1148" y="617" width="2" height="132" fill="#f23645"/>
<rect x="1145" y="663" width="8" height="18" fill="#f23645"/>
<rect x="1157" y="671" width="2" height="48" fill="#f23645"/>
<rect x="1154" y="680" width="8" height="19" fill="#f23645"/>
<rect x="1166" y="688" width="2" height="12" fill="#f23645"/>
<rect x="1163" y="697" width="8" height="2" fill="#f23645"/>
<rect x="1175" y="585" width="2" height="153" fill="#089981"/>
<rect x="1172" y="635" width="8" height="98" fill="#089981"/>
<rect x="1184" y="536" width="2" height="106" fill="#089981"/>
<rect x="1181" y="543" width="8" height="94" fill="#089981"/>
<rect x="1193" y="510" width="2" height="62" fill="#f23645"/>
<rect x="1190" y="543" width="8" height="21" fill="#f23645"/>
<rect x="1202" y="502" width="2" height="78" fill="#089981"/>
<rect x="1199" y="555" width="8" height="9" fill="#089981"/>
<rect x="1211" y="552" width="2" height="51" fill="#f23645"/>
<rect x="1208" y="555" width="8" height="29" fill="#f23645"/>
<rect x="1220" y="579" width="2" height="32" fill="#f23645"/>
<rect x="1217" y="583" width="8" height="15" fill="#f23645"/>
<rect x="1229" y="597" width="2" height="34" fill="#f23645"/>
<rect x="1226" y="597" width="8" height="28" fill="#f23645"/>
<rect x="1238" y="598" width="2" height="41" fill="#089981"/>
<rect x="1235" y="607" width="8" height="18" fill="#089981"/>
<rect x="1246" y="576" width="2" height="48" fill="#089981"/>
<rect x="1243" y="594" width="8" height="14" fill="#089981"/>
<rect x="1255" y="566" width="2" height="103" fill="#f23645"/>
<rect x="1252" y="594" width="8" height="52" fill="#f23645"/>
<rect x="1264" y="637" width="2" height="62" fill="#f23645"/>
<rect x="1261" y="645" width="8" height="9" fill="#f23645"/>
<rect x="1273" y="651" width="2" height="25" fill="#f23645"/>
<rect x="1270" y="653" width="8" height="23" fill="#f23645"/>
<rect x="1282" y="654" width="2" height="39" fill="#089981"/>
<rect x="1279" y="660" width="8" height="16" fill="#089981"/>
<rect x="1291" y="645" width="2" height="32" fill="#f23645"/>
<rect x="1288" y="660" width="8" height="4" fill="#f23645"/>
<rect x="1300" y="627" width="2" height="51" fill="#089981"/>
<rect x="1297" y="660" width="8" height="4" fill="#089981"/>
<rect x="1309" y="618" width="2" height="48" fill="#089981"/>
<rect x="1306" y="620" width="8" height="41" fill="#089981"/>
<rect x="1318" y="615" width="2" height="81" fill="#f23645"/>
<rect x="1315" y="620" width="8" height="74" fill="#f23645"/>
<rect x="1327" y="659" width="2" height="34" fill="#089981"/>
<rect x="1324" y="666" width="8" height="27" fill="#089981"/>
<rect x="1336" y="664" width="2" height="38" fill="#f23645"/>
<rect x="1333" y="666" width="8" height="20" fill="#f23645"/>
<rect x="1345" y="683" width="2" height="41" fill="#f23645"/>
<rect x="1342" y="685" width="8" height="32" fill="#f23645"/>
<rect x="1354" y="679" width="2" height="43" fill="#089981"/>
<rect x="1351" y="710" width="8" height="7" fill="#089981"/>
<rect x="1363" y="697" width="2" height="129" fill="#f23645"/>
<rect x="1360" y="710" width="8" height="89" fill="#f23645"/>
<rect x="1372" y="751" width="2" height="59" fill="#089981"/>
<rect x="1369" y="763" width="8" height="36" fill="#089981"/>
<rect x="1381" y="757" width="2" height="39" fill="#f23645"/>
<rect x="1378" y="762" width="8" height="16" fill="#f23645"/>
<rect x="1390" y="761" width="2" height="37" fill="#089981"/>
<rect x="1387" y="767" width="8" height="11" fill="#089981"/>
<rect x="1399" y="760" width="2" height="31" fill="#f23645"/>
<rect x="1396" y="766" width="8" height="2" fill="#f23645"/>
<rect x="1408" y="732" width="2" height="48" fill="#089981"/>
<rect x="1405" y="745" width="8" height="23" fill="#089981"/>
<rect x="1417" y="720" width="2" height="132" fill="#f23645"/>
<rect x="1414" y="745" width="8" height="81" fill="#f23645"/>
<rect x="1425" y="787" width="2" height="49" fill="#089981"/>
<rect x="1422" y="816" width="8" height="9" fill="#089981"/>
<rect x="1434" y="798" width="2" height="20" fill="#089981"/>
<rect x="1431" y="806" width="8" height="11" fill="#089981"/>
<rect x="1443" y="688" width="2" height="102" fill="#089981"/>
<rect x="1440" y="728" width="8" height="2" fill="#089981"/>
<rect x="1452" y="677" width="2" height="57" fill="#089981"/>
<rect x="1449" y="724" width="8" height="6" fill="#089981"/>
<rect x="1461" y="713" width="2" height="57" fill="#089981"/>
<rect x="1458" y="721" width="8" height="4" fill="#089981"/>
<rect x="1470" y="671" width="2" height="56" fill="#089981"/>
<rect x="1467" y="682" width="8" height="40" fill="#089981"/>
<rect x="1479" y="655" width="2" height="34" fill="#089981"/>
<rect x="1476" y="672" width="8" height="11" fill="#089981"/>
<rect x="1488" y="659" width="2" height="28" fill="#f23645"/>
<rect x="1485" y="672" width="8" height="12" fill="#f23645"/>
<rect x="1497" y="624" width="2" height="79" fill="#089981"/>
<rect x="1494" y="631" width="8" height="53" fill="#089981"/>
<rect x="1506" y="516" width="2" height="116" fill="#089981"/>
<rect x="1503" y="532" width="8" height="100" fill="#089981"/>
<rect x="1515" y="377" width="2" height="159" fill="#089981"/>
<rect x="1512" y="390" width="8" height="143" fill="#089981"/>
<rect x="1524" y="285" width="2" height="165" fill="#f23645"/>
<rect x="1521" y="390" width="8" height="25" fill="#f23645"/>
<rect x="1533" y="366" width="2" height="96" fill="#f23645"/>
<rect x="1530" y="414" width="8" height="46" fill="#f23645"/>
<rect x="1542" y="408" width="2" height="56" fill="#089981"/>
<rect x="1539" y="413" width="8" height="47" fill="#089981"/>
<rect x="1551" y="392" width="2" height="72" fill="#f23645"/>
<rect x="1548" y="414" width="8" height="26" fill="#f23645"/>
<rect x="1560" y="418" width="2" height="48" fill="#f23645"/>
<rect x="1557" y="440" width="8" height="6" fill="#f23645"/>
<rect x="1569" y="434" width="2" height="58" fill="#f23645"/>
<rect x="1566" y="445" width="8" height="10" fill="#f23645"/>
<rect x="1578" y="364" width="2" height="131" fill="#f23645"/>
<rect x="1575" y="453" width="8" height="39" fill="#f23645"/>
<rect x="1587" y="461" width="2" height="107" fill="#f23645"/>
<rect x="1584" y="491" width="8" height="33" fill="#f23645"/>
<rect x="1595" y="522" width="2" height="67" fill="#f23645"/>
<rect x="1592" y="523" width="8" height="59" fill="#f23645"/>
<rect x="1604" y="517" width="2" height="65" fill="#089981"/>
<rect x="1601" y="531" width="8" height="51" fill="#089981"/>
<rect x="1613" y="505" width="2" height="41" fill="#089981"/>
<rect x="1610" y="526" width="8" height="6" fill="#089981"/>
<rect x="1622" y="484" width="2" height="62" fill="#089981"/>
<rect x="1619" y="490" width="8" height="37" fill="#089981"/>
<rect x="1631" y="393" width="2" height="104" fill="#089981"/>
<rect x="1628" y="393" width="8" height="98" fill="#089981"/>
<rect x="1640" y="341" width="2" height="70" fill="#089981"/>
<rect x="1637" y="361" width="8" height="32" fill="#089981"/>
<rect x="1649" y="314" width="2" height="53" fill="#089981"/>
<rect x="1646" y="331" width="8" height="31" fill="#089981"/>
<rect x="1658" y="331" width="2" height="33" fill="#f23645"/>
<rect x="1655" y="331" width="8" height="33" fill="#f23645"/>
<rect x="1667" y="331" width="2" height="59" fill="#f23645"/>
<rect x="1664" y="363" width="8" height="24" fill="#f23645"/>
<rect x="1676" y="358" width="2" height="52" fill="#089981"/>
<rect x="1673" y="383" width="8" height="5" fill="#089981"/>
</g>
<line x1="1" y1="383" x2="1771" y2="383" stroke="#089981" stroke-width="2" stroke-dasharray="2 4"/>
<rect x="1771" y="2" width="147" height="1186" fill="#fff"/>
<g shape-rendering="crispEdges">
<rect x="2" y="911" width="1916" height="2" fill="#e0e3eb"/>
<rect x="2" y="1073" width="1916" height="2" fill="#e0e3eb"/>
</g>
<text x="1788.00" y="12.7" fill="#131722" style="font-size:24px;letter-spacing:1.600px">1.18600</text>
<text x="1788.00" y="74.3" fill="#131722" style="font-size:24px;letter-spacing:1.600px">1.18400</text>
<text x="1788.00" y="135.9" fill="#131722" style="font-size:24px;letter-spacing:1.600px">1.18200</text>
<text x="1788.00" y="197.5" fill="#131722" style="font-size:24px;letter-spacing:1.600px">1.18000</text>
<text x="1788.00" y="259.0" fill="#131722" style="font-size:24px;letter-spacing:1.600px">1.17800</text>
<text x="1788.00" y="320.6" fill="#131722" style="font-size:24px;letter-spacing:1.600px">1.17600</text>
<text x="1788.00" y="382.2" fill="#131722" style="font-size:24px;letter-spacing:1.600px">1.17400</text>
<text x="1788.00" y="443.8" fill="#131722" style="font-size:24px;letter-spacing:1.600px">1.17200</text>
<text x="1788.00" y="505.4" fill="#131722" style="font-size:24px;letter-spacing:1.600px">1.17000</text>
<text x="1788.00" y="567.0" fill="#131722" style="font-size:24px;letter-spacing:1.600px">1.16800</text>
<text x="1788.00" y="628.5" fill="#131722" style="font-size:24px;letter-spacing:1.600px">1.16600</text>
<text x="1788.00" y="690.1" fill="#131722" style="font-size:24px;letter-spacing:1.600px">1.16400</text>
<text x="1788.00" y="751.7" fill="#131722" style="font-size:24px;letter-spacing:1.600px">1.16200</text>
<text x="1788.00" y="813.3" fill="#131722" style="font-size:24px;letter-spacing:1.600px">1.16000</text>
<text x="1788.00" y="874.9" fill="#131722" style="font-size:24px;letter-spacing:1.600px">1.15800</text>
<text x="1786.80" y="941.5" fill="#131722" style="font-size:24px;letter-spacing:1.775px">75.00</text>
<text x="1787.00" y="1003.5" fill="#131722" style="font-size:24px;letter-spacing:1.725px">50.00</text>
<text x="1786.80" y="1065.5" fill="#131722" style="font-size:24px;letter-spacing:1.775px">25.00</text>
<path d="M1771,146.0 H1891 a4,4 0 0 1 4,4 V176.0 a4,4 0 0 1 -4,4 H1771 Z" fill="#f23645"/>
<text x="1788.20" y="171.3" fill="#fff" style="font-size:24px;letter-spacing:1.567px">1.18086</text>
<path d="M1771,278.0 H1891 a4,4 0 0 1 4,4 V308.0 a4,4 0 0 1 -4,4 H1771 Z" fill="#f23645"/>
<text x="1788.20" y="303.3" fill="#fff" style="font-size:24px;letter-spacing:1.567px">1.17658</text>
<path d="M1771,570.0 H1891 a4,4 0 0 1 4,4 V600.0 a4,4 0 0 1 -4,4 H1771 Z" fill="#089981"/>
<text x="1788.20" y="595.3" fill="#fff" style="font-size:24px;letter-spacing:1.583px">1.16707</text>
<path d="M1771,686.0 H1891 a4,4 0 0 1 4,4 V716.0 a4,4 0 0 1 -4,4 H1771 Z" fill="#089981"/>
<text x="1788.20" y="711.3" fill="#fff" style="font-size:24px;letter-spacing:1.550px">1.16330</text>
<path d="M1771,833.0 H1891 a4,4 0 0 1 4,4 V863.0 a4,4 0 0 1 -4,4 H1771 Z" fill="#089981"/>
<text x="1788.20" y="858.3" fill="#fff" style="font-size:24px;letter-spacing:1.500px">1.15854</text>
<path d="M1771,400.0 H1891 a4,4 0 0 1 4,4 V430.0 a4,4 0 0 1 -4,4 H1771 Z" fill="#089981"/>
<text x="1788.20" y="425.3" fill="#fff" style="font-size:24px;letter-spacing:1.567px">1.17273</text>
<path d="M1771,366.0 H1891 a4,4 0 0 1 4,4 V396.0 a4,4 0 0 1 -4,4 H1771 Z" fill="#089981"/>
<text x="1788.20" y="391.3" fill="#fff" style="font-size:24px;letter-spacing:1.550px">1.17370</text>
<path d="M1771,946.0 H1861 a4,4 0 0 1 4,4 V976.0 a4,4 0 0 1 -4,4 H1771 Z" fill="#9c59c4"/>
<text x="1786.80" y="971.3" fill="#fff" style="font-size:24px;letter-spacing:1.775px">62.40</text>
<path d="M1771,1075.0 H1891 a4,4 0 0 1 4,4 V1105.0 a4,4 0 0 1 -4,4 H1771 Z" fill="#ff6d00"/>
<text x="1787.40" y="1100.3" fill="#fff" style="font-size:24px;letter-spacing:1.717px">0.00192</text>
<path d="M1771,1116.0 H1891 a4,4 0 0 1 4,4 V1146.0 a4,4 0 0 1 -4,4 H1771 Z" fill="#ace5dc"/>
<text x="1787.40" y="1141.3" fill="#131722" style="font-size:24px;letter-spacing:1.717px">0.00019</text>
<text x="16.20" y="1227" fill="#131722" style="font-size:24px;letter-spacing:3.100px">10</text>
<text x="177.20" y="1227" fill="#131722" style="font-size:24px;letter-spacing:2.300px">14</text>
<text x="338.20" y="1227" fill="#131722" style="font-size:24px;letter-spacing:3.200px">18</text>
<text x="498.80" y="1227" fill="#131722" style="font-size:24px;letter-spacing:3.100px">23</text>
<text x="668.80" y="1227" fill="#131722" style="font-size:24px;letter-spacing:3.100px">28</text>
<text x="813.20" y="1227" fill="#131722" font-weight="bold" style="font-size:24px;letter-spacing:3.600px">2026</text>
<text x="1007.30" y="1227" fill="#131722" style="font-size:24px;letter-spacing:0.000px">7</text>
<text x="1160.70" y="1227" fill="#131722" style="font-size:24px;letter-spacing:4.500px">11</text>
<text x="1321.70" y="1227" fill="#131722" style="font-size:24px;letter-spacing:3.700px">15</text>
<text x="1482.80" y="1227" fill="#131722" style="font-size:24px;letter-spacing:3.500px">20</text>
<text x="1643.80" y="1227" fill="#131722" style="font-size:24px;letter-spacing:4.100px">23</text>
<text x="16.75" y="41" fill="#131722" style="font-size:24px;letter-spacing:0.300px">EUR/USD Spot, 4h</text>
<text x="238.90" y="41" fill="#131722" style="font-size:24px;letter-spacing:0.000px">O</text>
<text x="256.20" y="41" fill="#089981" style="font-size:24px;letter-spacing:0.183px">1.17358</text>
<text x="357.00" y="41" fill="#131722" style="font-size:24px;letter-spacing:0.000px">H</text>
<text x="374.20" y="41" fill="#089981" style="font-size:24px;letter-spacing:-0.050px">1.17452</text>
<text x="473.50" y="41" fill="#131722" style="font-size:24px;letter-spacing:0.000px">L</text>
<text x="486.95" y="41" fill="#089981" style="font-size:24px;letter-spacing:0.058px">1.17283</text>
<text x="587.55" y="41" fill="#131722" style="font-size:24px;letter-spacing:0.000px">C</text>
<text x="604.20" y="41" fill="#089981" style="font-size:24px;letter-spacing:-0.250px">1.17370</text>
<text x="702.80" y="41" fill="#089981" style="font-size:24px;letter-spacing:0.887px">+0.00009 (+0.01%)</text>
<text x="16.80" y="952.8" fill="#131722" style="font-size:24px;letter-spacing:-0.243px">RSI (14)</text>
<text x="119.80" y="952.8" fill="#9c59c4" style="font-size:24px;letter-spacing:1.400px">62.40</text>
<text x="16.00" y="1115" fill="#131722" style="font-size:24px;letter-spacing:0.518px">MACD (12, 26, close, 9)</text>
<text x="298.10" y="1115" fill="#ace5dc" style="font-size:24px;letter-spacing:0.842px">0.00019</text>
<text x="403.60" y="1115" fill="#2196f3" style="font-size:24px;letter-spacing:0.633px">0.00212</text>
<text x="508.10" y="1115" fill="#ff6d00" style="font-size:24px;letter-spacing:0.717px">0.00192</text>
<g shape-rendering="crispEdges">
<rect x="0" y="0" width="1920" height="2" fill="#eef0f4"/><rect x="0" y="1244" width="1920" height="2" fill="#eef0f4"/><rect x="0" y="0" width="2" height="1246" fill="#eef0f4"/><rect x="1918" y="0" width="2" height="1246" fill="#eef0f4"/>
</g>
</svg></body></html>
